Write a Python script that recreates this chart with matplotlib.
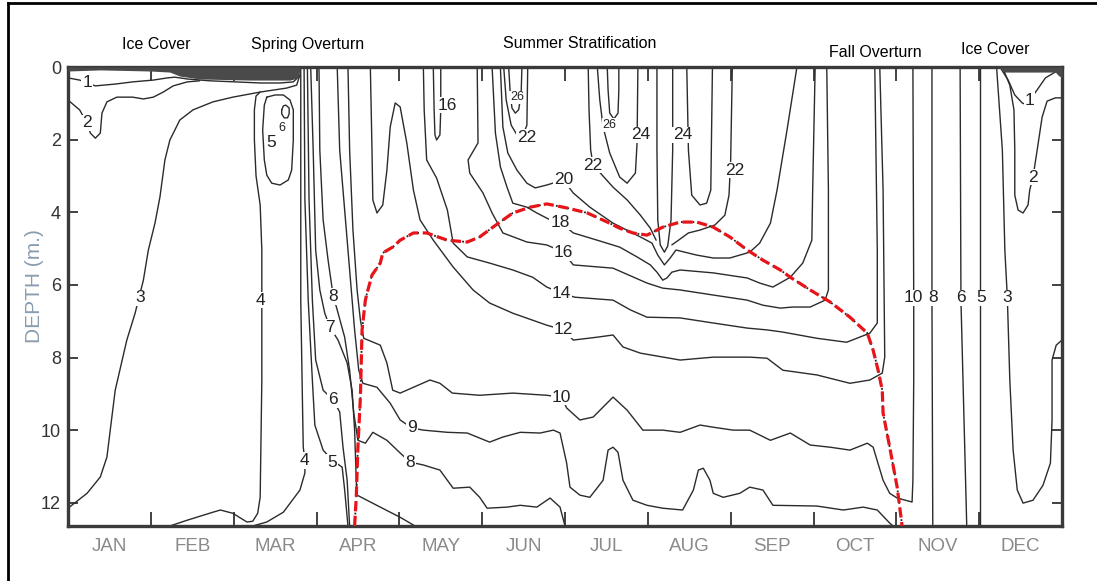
import matplotlib
matplotlib.use("Agg")
import matplotlib.pyplot as plt
from matplotlib.lines import Line2D

plt.rcParams['font.family'] = ['Liberation Sans', 'DejaVu Sans']

# x = months since 1 Jan, y = depth (m)
months = ['JAN', 'FEB', 'MAR', 'APR', 'MAY', 'JUN', 'JUL', 'AUG', 'SEP', 'OCT', 'NOV', 'DEC']
depth_ticks = [0, 2, 4, 6, 8, 10, 12]

seasons = ['Ice Cover', 'Spring Overturn', 'Summer Stratification', 'Fall Overturn', 'Ice Cover']
season_month = [1.07, 2.89, 6.18, 9.75, 11.20]
season_depth = [-0.61, -0.61, -0.66, -0.41, -0.47]

ice_jan_month = [0, 0.39, 0.99, 1.23, 1.35, 1.59, 2.20, 2.68, 2.78, 2.80]
ice_jan_depth = [0.11, 0.08, 0.11, 0.14, 0.25, 0.33, 0.36, 0.36, 0.30, 0.0]
ice_dec_month = [11.23, 11.31, 11.37, 11.86, 11.92, 11.95, 12.0]
ice_dec_depth = [0.0, 0.14, 0.14, 0.14, 0.14, 0.22, 0.30]

# isotherms, (month, depth)
iso1_jan = [(0.00, 0.30), (0.14, 0.36), (0.33, 0.52), (0.57, 0.47), (0.78, 0.41), (1.03, 0.36), (1.20, 0.30),
            (1.29, 0.28), (1.44, 0.33), (1.71, 0.38), (2.02, 0.41), (2.32, 0.44), (2.56, 0.44), (2.72, 0.41),
            (2.78, 0.28), (2.80, 0.00)]
iso2_jan = [(0.00, 0.91), (0.14, 1.18), (0.23, 1.54), (0.27, 1.82), (0.33, 1.96), (0.39, 1.82), (0.41, 1.27),
            (0.47, 0.96), (0.59, 0.83), (0.78, 0.83), (0.91, 0.88), (1.03, 0.83), (1.15, 0.69), (1.27, 0.52),
            (1.44, 0.41), (1.59, 0.38)]
iso3_jan = [(0.00, 12.15), (0.23, 11.74), (0.39, 11.29), (0.47, 10.74), (0.51, 10.00), (0.57, 8.90), (0.71, 7.52),
            (0.81, 6.78), (0.91, 5.87), (0.97, 5.04), (1.05, 4.30), (1.11, 3.58), (1.17, 2.56), (1.23, 2.01),
            (1.35, 1.46), (1.51, 1.18), (1.75, 0.96), (1.99, 0.83), (2.32, 0.69), (2.64, 0.58), (2.76, 0.50),
            (2.80, 0.22)]
iso4_feb = [(1.23, 12.64), (1.44, 12.48), (1.75, 12.26), (1.84, 12.20), (1.99, 12.29), (2.16, 12.53), (2.23, 12.51),
            (2.29, 12.29), (2.32, 11.85), (2.34, 8.62), (2.34, 5.04), (2.32, 3.80), (2.27, 3.00), (2.25, 2.00),
            (2.25, 1.18), (2.27, 0.80), (2.32, 0.69)]
iso5_loop = [(2.40, 0.83), (2.37, 1.05), (2.35, 1.74), (2.37, 2.56), (2.40, 2.98), (2.46, 3.20), (2.56, 3.25),
             (2.66, 3.11), (2.70, 2.84), (2.72, 2.01), (2.72, 1.18), (2.68, 0.91), (2.60, 0.77), (2.50, 0.77),
             (2.40, 0.83)]
iso6_loop = [(2.58, 1.18), (2.60, 1.07), (2.63, 1.05), (2.67, 1.13), (2.67, 1.29), (2.65, 1.40), (2.61, 1.40),
             (2.58, 1.29), (2.58, 1.18)]
iso4_apr = [(2.81, 0.00), (2.81, 3.66), (2.81, 6.42), (2.83, 9.17), (2.84, 10.47), (2.86, 10.83), (2.86, 11.18),
            (2.80, 11.65), (2.60, 12.26), (2.40, 12.53), (2.23, 12.64)]
iso5_apr = [(2.85, 0.00), (2.86, 3.66), (2.90, 6.42), (2.95, 8.62), (2.98, 9.86), (3.08, 10.55), (3.19, 10.83),
            (3.31, 11.02), (3.34, 11.65), (3.38, 12.64)]
iso6_apr = [(2.89, 0.00), (2.91, 3.66), (2.95, 6.42), (2.99, 8.07), (3.08, 8.90), (3.20, 9.17), (3.28, 9.50),
            (3.32, 10.47), (3.37, 11.38), (3.40, 12.64)]
iso7_apr = [(2.93, 0.00), (2.96, 2.29), (2.99, 5.04), (3.04, 6.14), (3.10, 6.78), (3.16, 7.16), (3.26, 7.52),
            (3.37, 8.15), (3.43, 8.90), (3.46, 10.00), (3.48, 11.38), (3.49, 11.79), (3.77, 12.12), (4.01, 12.40),
            (4.19, 12.64)]
iso8 = [(3.03, 0.00), (3.04, 2.29), (3.08, 4.21), (3.14, 5.32), (3.20, 6.28), (3.25, 6.69), (3.34, 7.44),
        (3.40, 8.35), (3.45, 9.53), (3.50, 10.28), (3.59, 10.36), (3.68, 10.06), (3.85, 10.28), (4.01, 10.63),
        (4.13, 10.88), (4.29, 10.96), (4.49, 11.10), (4.65, 11.60), (4.85, 11.57), (4.97, 11.85), (5.06, 12.15),
        (5.30, 12.12), (5.46, 12.07), (5.66, 12.12), (5.82, 11.87), (5.94, 12.12), (6.00, 12.64)]
iso9 = [(3.25, 0.00), (3.28, 2.29), (3.36, 4.49), (3.42, 6.14), (3.46, 7.24), (3.51, 8.35), (3.56, 8.71),
        (3.73, 8.82), (3.89, 9.26), (4.01, 9.72), (4.15, 9.94), (4.29, 10.00), (4.58, 10.06), (4.82, 10.08),
        (5.09, 10.33), (5.25, 10.19), (5.46, 10.06), (5.70, 10.08), (5.86, 10.00), (5.94, 10.08), (6.02, 10.91),
        (6.06, 11.57), (6.18, 11.79), (6.30, 11.85), (6.46, 11.38), (6.52, 10.55), (6.58, 10.47), (6.64, 10.61),
        (6.70, 11.38), (6.82, 11.93), (6.99, 12.07), (7.18, 12.15), (7.42, 12.20), (7.55, 11.65), (7.61, 11.10),
        (7.67, 11.05), (7.75, 11.38), (7.79, 11.74), (7.91, 11.85), (8.11, 11.74), (8.23, 11.57), (8.39, 11.65),
        (8.51, 12.07), (9.04, 12.09), (9.36, 12.20), (9.60, 12.12), (9.77, 12.20), (9.92, 12.56), (9.96, 12.64)]
iso10 = [(3.38, 0.00), (3.40, 2.29), (3.44, 4.49), (3.49, 6.14), (3.53, 6.97), (3.57, 7.47), (3.77, 7.66),
         (3.85, 8.15), (3.92, 8.90), (4.01, 8.98), (4.17, 8.82), (4.37, 8.62), (4.49, 8.71), (4.64, 8.98),
         (4.97, 9.04), (5.37, 8.98), (5.78, 9.04), (5.96, 9.09), (6.02, 9.39), (6.18, 9.72), (6.34, 9.64),
         (6.58, 9.09), (6.75, 9.45), (6.94, 10.00), (7.18, 10.00), (7.39, 10.06), (7.63, 9.86), (7.79, 9.92),
         (8.03, 10.00), (8.23, 10.00), (8.48, 10.28), (8.72, 10.08), (8.96, 10.41), (9.20, 10.47), (9.44, 10.55),
         (9.65, 10.36), (9.72, 10.47), (9.84, 11.38), (9.92, 11.74), (10.01, 11.87), (10.19, 11.98), (10.20, 11.38),
         (10.21, 8.62), (10.21, 6.42), (10.20, 0.00)]
iso12 = [(3.65, 0.00), (3.67, 2.29), (3.68, 3.66), (3.73, 4.02), (3.80, 3.80), (3.85, 2.84), (3.89, 1.65),
         (3.95, 0.99), (4.01, 1.10), (4.09, 2.09), (4.17, 3.39), (4.25, 4.21), (4.41, 4.77), (4.65, 5.51),
         (4.89, 6.14), (5.09, 6.50), (5.37, 6.78), (5.78, 7.11), (5.98, 7.24), (6.10, 7.52), (6.39, 7.44),
         (6.58, 7.38), (6.70, 7.71), (6.91, 7.88), (7.39, 8.07), (7.79, 7.99), (8.23, 7.99), (8.44, 8.02),
         (8.63, 8.35), (9.04, 8.48), (9.44, 8.71), (9.68, 8.62), (9.83, 8.43), (9.86, 7.99), (9.84, 3.39),
         (9.80, 0.00)]
iso14 = [(4.29, 0.00), (4.30, 1.18), (4.33, 2.56), (4.45, 3.06), (4.58, 3.94), (4.65, 4.85), (4.82, 5.23),
         (5.09, 5.40), (5.37, 5.59), (5.61, 5.79), (5.78, 6.06), (5.96, 6.23), (6.12, 6.34), (6.58, 6.42),
         (6.79, 6.69), (6.99, 6.89), (7.39, 6.91), (7.79, 7.05), (8.20, 7.19), (8.44, 7.24), (8.63, 7.30),
         (9.04, 7.47), (9.40, 7.58), (9.68, 7.33), (9.77, 7.05), (9.77, 5.04), (9.74, 0.00)]
iso16_may = [(4.41, 0.00), (4.42, 1.18), (4.43, 1.87), (4.45, 2.01), (4.49, 1.87), (4.50, 1.18), (4.50, 0.00)]
iso16 = [(4.94, 0.00), (4.95, 2.09), (4.83, 2.56), (4.85, 2.92), (5.01, 3.47), (5.12, 4.02), (5.25, 4.57),
         (5.54, 4.82), (5.78, 4.90), (5.98, 5.10), (6.10, 5.45), (6.58, 5.54), (6.99, 5.95), (7.18, 6.09),
         (7.39, 6.14), (7.79, 6.28), (8.20, 6.42), (8.39, 6.56), (8.60, 6.64), (8.75, 6.61), (8.96, 6.61),
         (9.14, 6.42), (9.18, 6.14), (9.18, 3.39), (9.16, 0.00)]
iso18 = [(5.12, 0.00), (5.16, 1.82), (5.22, 2.75), (5.30, 3.31), (5.37, 3.75), (5.54, 3.86), (5.66, 4.02),
         (5.82, 4.21), (5.94, 4.27), (6.10, 4.57), (6.39, 4.77), (6.66, 4.96), (6.87, 5.23), (7.03, 5.45),
         (7.11, 5.65), (7.18, 5.87), (7.23, 5.81), (7.29, 5.65), (7.39, 5.59), (7.79, 5.67), (8.20, 5.81),
         (8.35, 5.95), (8.51, 6.06), (8.72, 5.79), (8.87, 5.40), (8.98, 4.77), (8.99, 3.39), (9.02, 0.00)]
iso20 = [(5.22, 0.00), (5.25, 1.65), (5.31, 2.37), (5.42, 2.84), (5.54, 3.20), (5.64, 3.33), (5.78, 3.25),
         (5.98, 3.11), (6.10, 3.47), (6.30, 3.86), (6.58, 4.30), (6.91, 4.68), (7.05, 4.85), (7.12, 5.18),
         (7.20, 5.45), (7.27, 5.26), (7.34, 5.04), (7.59, 5.18), (7.79, 5.26), (7.99, 5.26), (8.23, 5.10),
         (8.35, 4.85), (8.48, 4.30), (8.56, 3.39), (8.68, 1.74), (8.80, 0.00)]
iso22_jun = [(5.26, 0.00), (5.29, 0.91), (5.35, 1.60), (5.42, 1.87), (5.48, 1.96), (5.54, 1.60), (5.55, 0.00)]
iso26_jun = [(5.32, 0.00), (5.34, 0.77), (5.36, 1.13), (5.40, 1.27), (5.44, 1.18), (5.47, 0.77), (5.48, 0.00)]
iso22_jul = [(6.28, 0.00), (6.29, 1.18), (6.31, 2.29), (6.34, 2.70), (6.45, 2.98), (6.58, 3.31), (6.75, 3.66),
             (6.91, 4.08), (7.03, 4.44), (7.10, 4.77)]
iso24_jul = [(6.39, 0.00), (6.42, 0.91), (6.46, 1.65), (6.54, 2.37), (6.66, 3.03), (6.75, 3.20), (6.85, 2.92),
             (6.87, 2.09), (6.88, 0.00)]
iso26_jul = [(6.51, 0.00), (6.52, 0.63), (6.54, 1.27), (6.59, 1.43), (6.64, 1.27), (6.65, 0.63), (6.65, 0.00)]
iso24_dip = [(7.11, 0.00), (7.11, 2.29), (7.12, 4.21), (7.15, 4.90), (7.20, 5.10), (7.24, 4.93), (7.28, 4.21),
             (7.30, 2.29), (7.30, 0.00)]
iso24_aug = [(7.47, 0.00), (7.49, 2.29), (7.53, 3.53), (7.63, 3.80), (7.71, 3.75), (7.76, 3.39), (7.78, 0.00)]
iso22_aug = [(8.02, 0.00), (8.00, 2.56), (7.98, 3.53), (7.93, 4.08), (7.81, 4.35), (7.63, 4.49), (7.49, 4.57),
             (7.37, 4.77), (7.29, 4.90)]
iso8_nov = [(10.43, 0.00), (10.43, 6.42), (10.44, 12.64)]
iso6_nov = [(10.77, 0.00), (10.78, 6.42), (10.85, 12.64)]
iso5_nov = [(11.01, 0.00), (11.01, 12.64)]
iso3_dec = [(11.21, 0.00), (11.28, 2.29), (11.31, 5.04), (11.34, 6.34), (11.37, 8.62), (11.41, 10.55),
            (11.46, 11.65), (11.53, 12.01), (11.65, 11.93), (11.77, 11.52), (11.86, 10.91), (11.88, 9.72),
            (11.88, 8.07), (11.93, 7.66), (12.00, 7.52)]
iso1_dec = [(11.25, 0.00), (11.35, 0.36), (11.43, 0.77), (11.52, 0.99), (11.58, 1.05), (11.61, 0.91),
            (11.70, 0.63), (11.80, 0.30), (11.94, 0.11), (12.00, 0.06)]
iso2_dec = [(11.28, 0.00), (11.37, 0.50), (11.42, 1.18), (11.43, 2.29), (11.43, 3.53), (11.47, 3.94),
            (11.53, 4.02), (11.59, 3.80), (11.61, 3.39), (11.65, 3.03), (11.70, 2.29), (11.76, 1.38),
            (11.82, 0.94), (11.92, 0.85), (12.00, 0.85)]

isotherms = [iso1_jan, iso2_jan, iso3_jan, iso4_feb, iso5_loop, iso6_loop, iso4_apr, iso5_apr, iso6_apr,
             iso7_apr, iso8, iso9, iso10, iso12, iso14, iso16_may, iso16, iso18, iso20, iso22_jun, iso26_jun,
             iso22_jul, iso24_jul, iso26_jul, iso24_dip, iso24_aug, iso22_aug, iso8_nov, iso6_nov, iso5_nov,
             iso3_dec, iso1_dec, iso2_dec]

# stratified-layer boundary (red dashed)
boundary_month = [3.46, 3.48, 3.50, 3.53, 3.55, 3.59, 3.61, 3.67, 3.77, 3.80, 3.92, 4.01, 4.17, 4.33, 4.58, 4.82,
                  4.97, 5.13, 5.37, 5.58, 5.78, 6.02, 6.27, 6.51, 6.66, 6.82, 6.99, 7.18, 7.39, 7.59, 7.79, 7.99,
                  8.20, 8.39, 8.60, 8.72, 8.96, 9.20, 9.44, 9.65, 9.72, 9.78, 9.83, 9.84, 9.92, 10.01, 10.07]
boundary_depth = [12.64, 11.85, 10.47, 9.09, 7.24, 6.42, 6.23, 5.73, 5.40, 5.12, 4.96, 4.77, 4.57, 4.57, 4.77, 4.82,
                  4.68, 4.41, 4.02, 3.86, 3.77, 3.88, 4.02, 4.27, 4.44, 4.57, 4.63, 4.41, 4.27, 4.27, 4.41, 4.68,
                  5.04, 5.32, 5.59, 5.79, 6.14, 6.47, 6.89, 7.33, 7.80, 8.35, 8.90, 9.53, 10.47, 11.57, 12.64]

label_text = ['1', '2', '3', '4', '5', '6',
              '4', '5', '6', '7', '8',
              '8', '9', '10', '12', '14', '16', '18', '20', '22', '22', '26', '16', '24', '26', '24', '22',
              '10', '8', '6', '5', '3', '1', '2']
label_month = [0.23, 0.23, 0.87, 2.32, 2.45, 2.58,
               2.86, 3.19, 3.20, 3.16, 3.20,
               4.13, 4.15, 5.96, 5.98, 5.96, 5.98, 5.94, 5.98, 6.34, 5.54, 5.42, 4.58, 6.91, 6.54, 7.42, 8.05,
               10.20, 10.44, 10.78, 11.02, 11.34, 11.61, 11.65]
label_depth = [0.44, 1.54, 6.36, 6.42, 2.09, 1.68,
               10.83, 10.88, 9.17, 7.16, 6.31,
               10.88, 9.94, 9.09, 7.24, 6.23, 5.10, 4.27, 3.11, 2.70, 1.93, 0.83, 1.05, 1.87, 1.60, 1.87, 2.84,
               6.36, 6.36, 6.36, 6.36, 6.36, 0.91, 3.03]
small_labels = {5, 21, 24}

fig = plt.figure(figsize=(10.97, 5.81), dpi=100)
ax = fig.add_axes([68 / 1097, 1 - 526 / 581, 994 / 1097, 459 / 581])
ax.set_xlim(0, 12)
ax.set_ylim(12.64, 0)

line_col = '#2b2b2b'
for pts in isotherms:
    xs, ys = zip(*pts)
    ax.plot(xs, ys, color=line_col, lw=1.0, solid_joinstyle='round', solid_capstyle='round', zorder=2)

ax.fill_between(ice_jan_month, 0, ice_jan_depth, color='#4a4a4a', lw=0, zorder=3)
ax.fill_between(ice_dec_month, 0, ice_dec_depth, color='#4a4a4a', lw=0, zorder=3)

ax.plot(boundary_month, boundary_depth, color='#222222', lw=1.3, ls=(0, (1, 2.2)), zorder=4)
ax.plot(boundary_month, boundary_depth, color='#e8141a', lw=2.3, ls=(0, (3.2, 1.4)), zorder=5)

for i, (t, m, d) in enumerate(zip(label_text, label_month, label_depth)):
    fs = 9 if i in small_labels else 12.5
    ax.text(m, d, t, ha='center', va='center', fontsize=fs, color='#222222', zorder=6,
            bbox=dict(boxstyle='square,pad=0.05', fc='white', ec='none'))

for name, m, d in zip(seasons, season_month, season_depth):
    ax.text(m, d, name, ha='center', va='center', fontsize=11.5, color='black', clip_on=False)

for i, name in enumerate(months):
    ax.text(i + 0.5, 13.2, name, ha='center', va='center', fontsize=13.5, color='#8a8a8a', clip_on=False)

ax.set_xticks(range(1, 12))
ax.set_xticklabels([])
ax.set_yticks(depth_ticks)
ax.set_yticklabels([str(v) for v in depth_ticks], fontsize=13, color='#333333')
ax.tick_params(axis='x', direction='in', length=10, width=1.3, color='#333333', top=True, bottom=True)
ax.tick_params(axis='y', direction='in', length=7, width=1.3, color='#333333', left=True, right=True, pad=5)
for s in ax.spines.values():
    s.set_linewidth(2.4)
    s.set_color('#3a3a3a')

fig.text(35 / 1097, 1 - 286 / 581, 'DEPTH (m.)', rotation=90, ha='center', va='center',
         fontsize=15, color='#8a9db0')

# outer frame (left and top edges are visible in the reference)
fig.add_artist(Line2D([8 / 1097, 8 / 1097], [0, 1 - 3 / 581], transform=fig.transFigure, color='black', lw=2))
fig.add_artist(Line2D([8 / 1097, 1], [1 - 3 / 581, 1 - 3 / 581], transform=fig.transFigure, color='black', lw=2))

fig.savefig('out.png', dpi=100)
